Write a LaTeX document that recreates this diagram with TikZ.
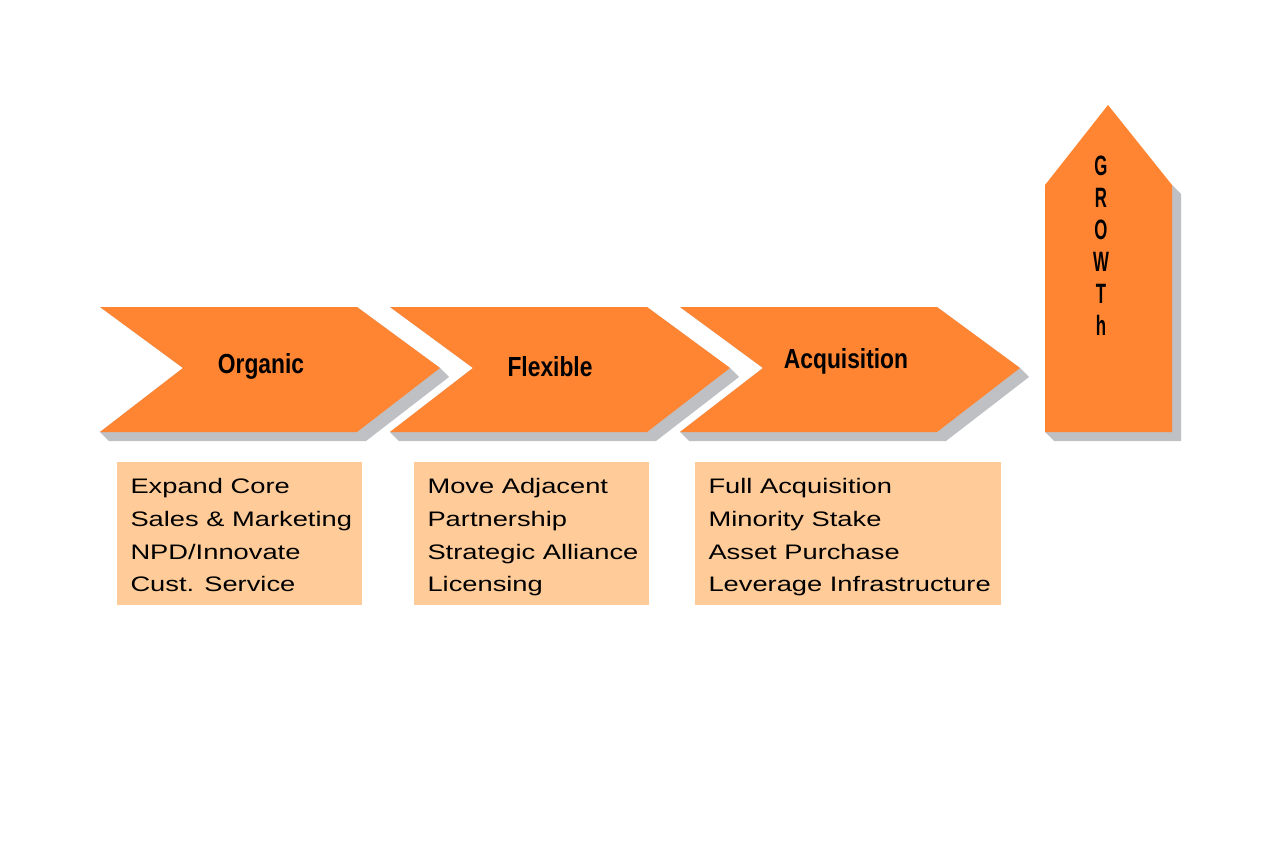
\documentclass[tikz,border=0pt]{standalone}
\usepackage{fontspec}
\setmainfont{Liberation Sans}
\definecolor{chevorange}{RGB}{255,133,51}
\definecolor{boxpeach}{RGB}{255,204,153}
\definecolor{shadowgray}{RGB}{190,192,196}

\begin{document}
\begin{tikzpicture}[x=0.5pt, y=-0.5pt,
  shapefill/.style={fill=chevorange},
  shadowfill/.style={fill=shadowgray},
  title/.style={font=\bfseries\fontsize{12pt}{14pt}\selectfont, inner sep=0pt, xscale=0.95, yscale=1.15},
  growthtext/.style={font=\bfseries\fontsize{14pt}{16pt}\selectfont, inner sep=0pt, align=center, xscale=0.6},
  listbox/.style={fill=boxpeach, anchor=north west, inner sep=0pt, minimum height=71.5pt},
  listtext/.style={font=\fontsize{10.5pt}{16.35pt}\selectfont, align=left, anchor=north west, inner sep=0pt, xscale=1.3}]
  \useasboundingbox (0,0) rectangle (1280,851);

  % chevrons with their shadows
  \fill[shadowfill] (100,307) -- (357,307) -- (440,368) -- (449,377) -- (366,441) -- (109,441) -- (100,432) -- (183,368) -- cycle;
  \fill[shapefill] (100,307) -- (357,307) -- (440,368) -- (357,432) -- (100,432) -- (183,368) -- cycle;
  \fill[shadowfill] (390,307) -- (647,307) -- (730,368) -- (739,377) -- (656,441) -- (399,441) -- (390,432) -- (473,368) -- cycle;
  \fill[shapefill] (390,307) -- (647,307) -- (730,368) -- (647,432) -- (390,432) -- (473,368) -- cycle;
  \fill[shadowfill] (680,307) -- (937,307) -- (1020,368) -- (1029,377) -- (946,441) -- (689,441) -- (680,432) -- (763,368) -- cycle;
  \fill[shapefill] (680,307) -- (937,307) -- (1020,368) -- (937,432) -- (680,432) -- (763,368) -- cycle;

  % upward arrow
  \fill[shadowfill] (1045,432) -- (1045,185) -- (1172,185) -- (1181,194) -- (1181,441) -- (1054,441) -- cycle;
  \fill[shapefill] (1045,432) -- (1045,185) -- (1108,105) -- (1172,185) -- (1172,432) -- cycle;

  \node[title] (organic) at (261,366) {Organic};
  \node[title] (flexible) at (550,367) {Flexible};
  \node[title] (acquisition) at (846,361) {Acquisition};
  \node[growthtext] (growth) at (1101,246) {G\\R\\O\\W\\T\\h};

  % option lists
  \node[listbox, minimum width=122.5pt] (box1) at (117,462) {};
  \node[listbox, minimum width=117.5pt] (box2) at (414,462) {};
  \node[listbox, minimum width=153pt] (box3) at (695,462) {};

  \node[listtext] (list1) at ([shift={(13,16)}]box1.north west) {Expand Core\\Sales \& Marketing\\NPD/Innovate\\Cust. Service};
  \node[listtext] (list2) at ([shift={(13,16)}]box2.north west) {Move Adjacent\\Partnership\\Strategic Alliance\\Licensing};
  \node[listtext] (list3) at ([shift={(13,16)}]box3.north west) {Full Acquisition\\Minority Stake\\Asset Purchase\\Leverage Infrastructure};
\end{tikzpicture}
\end{document}
